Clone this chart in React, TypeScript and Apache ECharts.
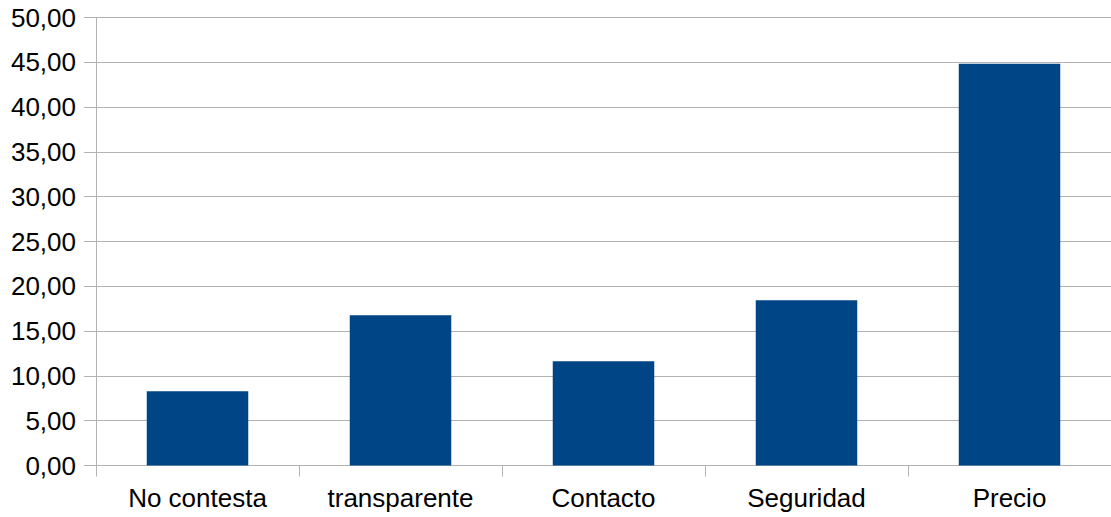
import React, { useEffect, useRef } from "react";
import * as echarts from "echarts";

const categories = ["No contesta", "transparente", "Contacto", "Seguridad", "Precio"];
const values = [8.29, 16.77, 11.64, 18.45, 44.85];
const yMin = 0;
const yMax = 50;
const yInterval = 5;

export default function App() {
  const ref = useRef<HTMLDivElement>(null);
  useEffect(() => {
    if (!ref.current) return;
    const chart = echarts.init(ref.current, undefined, { renderer: "svg" });
    const fontFamily = "'Liberation Sans', Arial, sans-serif";
    chart.setOption({
      animation: false,
      backgroundColor: "#ffffff",
      grid: { left: 96, right: -3, top: 17.5, bottom: 51.5, containLabel: false },
      xAxis: {
        type: "category",
        data: categories,
        axisLine: { show: true, lineStyle: { color: "#b3b3b3", width: 1 } },
        axisTick: { show: true, alignWithLabel: false, length: 11, lineStyle: { color: "#b3b3b3" } },
        axisLabel: { color: "#000000", fontSize: 26, fontFamily, margin: 19 },
        splitLine: { show: false },
      },
      yAxis: {
        type: "value",
        min: yMin,
        max: yMax,
        interval: yInterval,
        axisLine: { show: true, lineStyle: { color: "#b3b3b3", width: 1 } },
        axisTick: { show: true, length: 12, lineStyle: { color: "#b3b3b3" } },
        axisLabel: {
          color: "#000000",
          fontSize: 26,
          fontFamily,
          margin: 20,
          formatter: (v: number) => v.toFixed(2).replace(".", ","),
        },
        splitLine: { show: true, lineStyle: { color: "#b3b3b3", width: 1 } },
      },
      series: [
        {
          type: "bar",
          data: values,
          barWidth: "50%",
          itemStyle: { color: "#004586" },
        },
      ],
    });
    return () => chart.dispose();
  }, []);
  return <div ref={ref} style={{ width: 1111, height: 517, position: "fixed", left: 0, top: 0 }} />;
}
